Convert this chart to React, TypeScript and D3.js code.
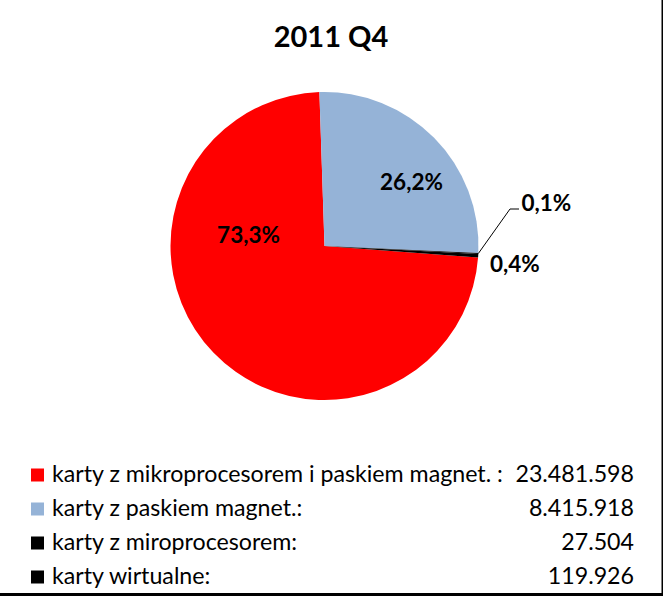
import * as React from 'react';
import * as d3 from 'd3';

// chart data
const title = '2011 Q4';
const categories = [
  'karty z mikroprocesorem i paskiem magnet. :',
  'karty z paskiem magnet.:',
  'karty z miroprocesorem:',
  'karty wirtualne:',
];
const values = [23481598, 8415918, 27504, 119926];
const valueLabels = ['23.481.598', '8.415.918', '27.504', '119.926'];
const pctLabels = ['73,3%', '26,2%', '0,1%', '0,4%'];
const colors = ['#ff0000', '#95b3d7', '#000000', '#000000'];

const W = 663;
const H = 596;
const cx = 324.5;
const cy = 246;
const R = 154;
const font = 'Lato, Calibri, "Open Sans", sans-serif';

// label offsets from pie centre (Excel "best fit" placement)
const labelPos: [number, number, string][] = [
  [-76, -12, 'middle'],
  [87, -65, 'middle'],
  [197, -43.5, 'start'],
  [165.5, 17, 'start'],
];

const App = () => {
  const gRef = React.useRef<SVGGElement>(null);

  React.useEffect(() => {
    const g = d3.select(gRef.current);
    g.selectAll('*').remove();

    const total = d3.sum(values);
    const startDeg = 360 - 1.9 - (values[0] / total) * 360;
    const pie = d3
      .pie<number>()
      .sort(null)
      .startAngle((startDeg * Math.PI) / 180)
      .endAngle(((startDeg + 360) * Math.PI) / 180);
    const arcs = pie(values);
    const arc = d3.arc<d3.PieArcDatum<number>>().innerRadius(0).outerRadius(R);

    const pieG = g.append('g').attr('transform', `translate(${cx},${cy})`);
    pieG
      .selectAll('path')
      .data(arcs)
      .enter()
      .append('path')
      .attr('d', arc)
      .attr('fill', (_, i) => colors[i]);

    // leader line for tiny slice
    const small = arcs[2];
    const mid = (small.startAngle + small.endAngle) / 2;
    const p0: [number, number] = [R * Math.sin(mid), -R * Math.cos(mid)];
    const elbow: [number, number] = [labelPos[2][0] - 11.5, labelPos[2][1] + 6.5];
    pieG
      .append('path')
      .attr('d', d3.line()([p0, elbow, [labelPos[2][0] - 2.5, elbow[1]]]))
      .attr('fill', 'none')
      .attr('stroke', '#000')
      .attr('stroke-width', 1);

    pieG
      .selectAll('text.lbl')
      .data(arcs)
      .enter()
      .append('text')
      .attr('class', 'lbl')
      .attr('x', (_, i) => labelPos[i][0])
      .attr('y', (_, i) => labelPos[i][1])
      .attr('text-anchor', (_, i) => labelPos[i][2])
      .attr('dominant-baseline', 'central')
      .attr('font-family', font)
      .attr('font-weight', 'bold')
      .attr('font-size', 22.5)
      .attr('fill', '#000')
      .text((_, i) => pctLabels[i]);

    // legend
    const y = d3.scalePoint<string>().domain(categories).range([473, 575]);
    const leg = g.append('g');
    const rows = leg
      .selectAll('g')
      .data(categories)
      .enter()
      .append('g')
      .attr('transform', (d) => `translate(0,${y(d)})`);
    rows
      .append('rect')
      .attr('x', 31)
      .attr('y', -4.5)
      .attr('width', 13)
      .attr('height', 13)
      .attr('fill', (_, i) => colors[i]);
    rows
      .append('text')
      .attr('x', 52)
      .attr('dominant-baseline', 'central')
      .attr('font-family', font)
      .attr('font-size', 23.2)
      .attr('fill', '#000')
      .text((d) => d);
    rows
      .append('text')
      .attr('x', 634)
      .attr('text-anchor', 'end')
      .attr('dominant-baseline', 'central')
      .attr('font-family', font)
      .attr('font-size', 23.2)
      .attr('fill', '#000')
      .text((_, i) => valueLabels[i]);
  }, []);

  return (
    <svg
      width={W}
      height={H}
      style={{ position: 'absolute', left: 0, top: 0, background: '#fff' }}
    >
      <rect x={0} y={0} width={W} height={H} fill="#fff" />
      <text
        x={331}
        y={47}
        textAnchor="middle"
        fontFamily={font}
        fontWeight="bold"
        fontSize={29}
        fill="#000"
      >
        {title}
      </text>
      <g ref={gRef} />
      <rect x={661.5} y={0} width={1.5} height={H} fill="#000" />
      <rect x={0} y={593} width={W} height={3} fill="#000" />
    </svg>
  );
};

export default App;
